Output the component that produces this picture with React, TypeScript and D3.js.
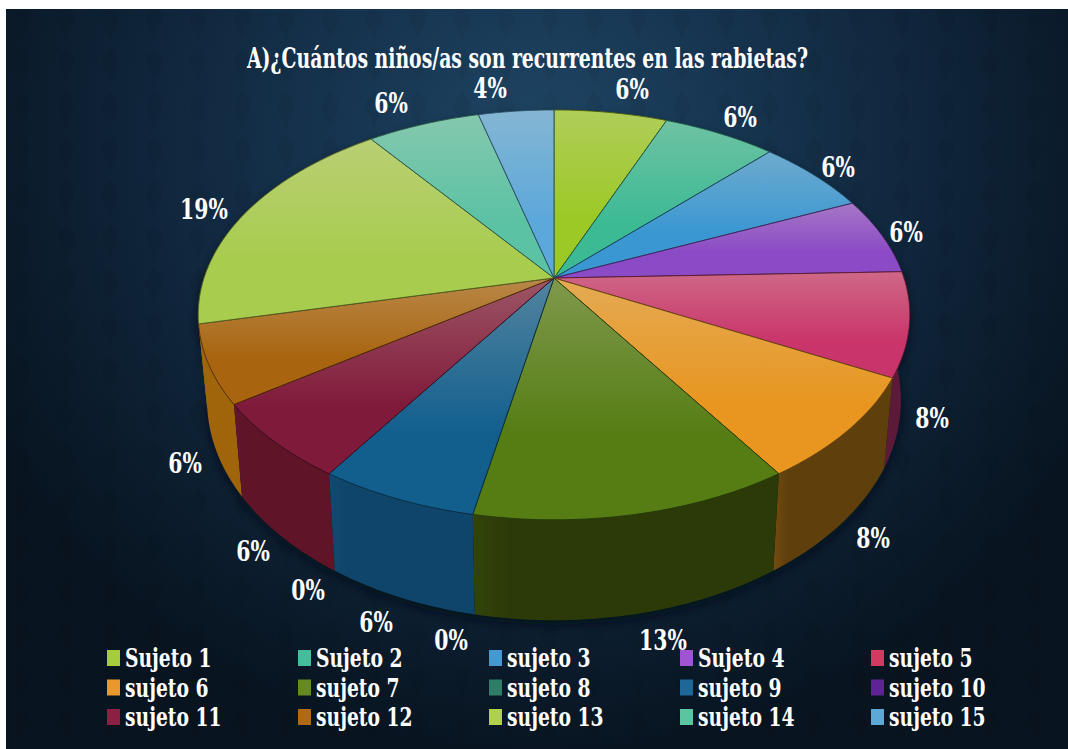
import React from 'react';
import * as d3 from 'd3';

const title = 'A)¿Cuántos niños/as son recurrentes en las rabietas?';

const subjects = [
  'Sujeto 1', 'Sujeto 2', 'sujeto 3', 'Sujeto 4', 'sujeto 5',
  'sujeto 6', 'sujeto 7', 'sujeto 8', 'sujeto 9', 'sujeto 10',
  'sujeto 11', 'sujeto 12', 'sujeto 13', 'sujeto 14', 'sujeto 15',
];
const counts = [3, 3, 3, 3, 4, 4, 6, 0, 3, 0, 3, 3, 9, 3, 2];
const percentLabels = ['6%', '6%', '6%', '6%', '8%', '8%', '13%', '0%', '6%', '0%', '6%', '6%', '19%', '6%', '4%'];
const sliceColors = [
  '#9cc926', '#3cba94', '#3a97d2', '#8c4bc6', '#c9356a',
  '#e8961f', '#557d14', '#1f7a5f', '#125f8e', '#5a1f96',
  '#801a3a', '#a8640e', '#a8cc4e', '#5cc2a4', '#5ca8da',
];
const wallColors = [
  '#5c7a18', '#24705a', '#235b80', '#552d78', '#5c1a38',
  '#5f3f0c', '#2c3a08', '#134a3a', '#10456b', '#36125a',
  '#5f1428', '#a0640a', '#667c30', '#387664', '#386684',
];
const legendSwatchColors = [
  '#a4cc3c', '#45bd9c', '#4499d2', '#a055d0', '#d23a62',
  '#e8982c', '#668a22', '#2f7d68', '#1f6797', '#5f2398',
  '#8c2044', '#b06a14', '#aed04e', '#5cc4a0', '#5ca9d8',
];

// hand placed in the original, so these are layout and not data
const labelAnchors = [
  [632, 99], [740, 127], [838, 177], [906, 242], [932, 428],
  [873, 548], [663, 650], [451, 650], [376, 632], [308, 600],
  [253, 561], [185, 473], [204, 219], [391, 113], [490, 98],
];

const W = 1068;
const H = 749;
const hub = { x: 554, y: 278 };
const radiusX = 350;
const radiusY = 198.3;
const tilt = 0.18; // perspective of the disc
const slabFont = "'DejaVu Serif Condensed', 'DejaVu Serif'";

const project = (theta: number) => {
  const px = Math.sin(theta);
  const py = -Math.cos(theta);
  const d = 1 - tilt * py;
  return [hub.x + (radiusX * px) / d, hub.y + (radiusY * py) / d];
};
const dropPoint = ([x, y]: number[]) => [hub.x + 0.975 * (x - hub.x), 1.0725 * y + 62.7];

const pie = d3.pie<number>().sort(null).value((d) => d);
const arcs = pie(counts);

const arcPoints = (a0: number, a1: number) =>
  d3.range(0, 41).map((i) => project(a0 + ((a1 - a0) * i) / 40));

const lineGen = d3.line();
const wedgePath = (a0: number, a1: number) =>
  lineGen([[hub.x, hub.y], ...arcPoints(a0, a1)] as [number, number][]) + 'Z';
const wallPath = (a0: number, a1: number) => {
  const top = arcPoints(a0, a1);
  return lineGen([...top, ...top.map(dropPoint).reverse()] as [number, number][]) + 'Z';
};

const col = d3.scalePoint<number>().domain([0, 1, 2, 3, 4]).range([107, 871]);
const row = d3.scalePoint<number>().domain([0, 1, 2]).range([650, 709]);

const mix = (c: string, other: string, t: number) => d3.interpolateRgb(c, other)(t);

// back of the pie first, so the walls nearest to the viewer end up on top
const wallOrder = arcs
  .map((a, i) => ({ a, i }))
  .filter((d) => d.a.value > 0)
  .sort(
    (p, q) =>
      -Math.cos((p.a.startAngle + p.a.endAngle) / 2) + Math.cos((q.a.startAngle + q.a.endAngle) / 2)
  );

export default function App() {
  return (
    <svg
      width={W}
      height={H}
      viewBox={`0 0 ${W} ${H}`}
      style={{ position: 'absolute', left: 0, top: 0, background: '#fff' }}
    >
      <defs>
        <radialGradient id="bg" gradientUnits="userSpaceOnUse" cx={540} cy={140} r={620}>
          <stop offset="0" stopColor="#1e4564" />
          <stop offset="0.35" stopColor="#16334e" />
          <stop offset="0.7" stopColor="#0e2236" />
          <stop offset="1" stopColor="#081420" />
        </radialGradient>
        <pattern id="damask" width={44} height={44} patternUnits="userSpaceOnUse">
          <path
            d="M22 3 C28 11 33 15 29 24 C26 30 24 31 22 41 C20 31 18 30 15 24 C11 15 16 11 22 3Z"
            fill="#000"
            opacity={0.05}
          />
        </pattern>
        <filter id="soft" x="-10%" y="-10%" width="120%" height="120%">
          <feGaussianBlur stdDeviation="5" />
        </filter>
        {arcs.map((_, i) => (
          <linearGradient key={i} id={`top${i}`} x1="0" y1="0" x2="0" y2="1">
            <stop offset="0" stopColor={mix(sliceColors[i], '#dcd4c4', 0.32)} />
            <stop offset="0.65" stopColor={sliceColors[i]} />
            <stop offset="1" stopColor={sliceColors[i]} />
          </linearGradient>
        ))}
        {arcs.map((_, i) => (
          <linearGradient key={i} id={`wall${i}`} x1="0" y1="0" x2="1" y2="0">
            <stop offset="0" stopColor={mix(wallColors[i], sliceColors[i], 0.15)} />
            <stop offset="0.12" stopColor={wallColors[i]} />
            <stop offset="1" stopColor={wallColors[i]} />
          </linearGradient>
        ))}
      </defs>

      <rect x={6} y={9} width={W - 6} height={H - 9} fill="url(#bg)" />
      <rect x={6} y={9} width={W - 6} height={H - 9} fill="url(#damask)" />

      <path
        d={wallPath(0, Math.PI * 2)}
        transform="translate(0,5)"
        fill="#030a12"
        opacity={0.75}
        filter="url(#soft)"
      />

      {wallOrder.map(({ a, i }) => (
        <path key={i} d={wallPath(a.startAngle, a.endAngle)} fill={`url(#wall${i})`} />
      ))}

      {arcs.map((a, i) =>
        a.value > 0 ? (
          <path
            key={i}
            d={wedgePath(a.startAngle, a.endAngle)}
            fill={`url(#top${i})`}
            stroke={mix(sliceColors[i], '#000', 0.55)}
            strokeWidth={0.9}
            strokeLinejoin="round"
          />
        ) : null
      )}

      <text
        x={527.5}
        y={68}
        textAnchor="middle"
        textLength={561}
        lengthAdjust="spacingAndGlyphs"
        fontFamily={slabFont}
        fontWeight={700}
        fontSize={27}
        fill="#fff"
      >
        {title}
      </text>

      {percentLabels.map((t, i) => (
        <text
          key={i}
          transform={`translate(${labelAnchors[i][0]},${labelAnchors[i][1]}) scale(0.84,1)`}
          textAnchor="middle"
          fontFamily={slabFont}
          fontWeight={700}
          fontSize={27}
          fill="#fff"
        >
          {t}
        </text>
      ))}

      {subjects.map((s, i) => {
        const c = i % 5;
        const r = Math.floor(i / 5);
        return (
          <g key={s} transform={`translate(${col(c)},${row(r)})`}>
            <rect width={13} height={16} fill={legendSwatchColors[i]} />
            <text
              transform="translate(18,17) scale(0.8,1)"
              fontFamily={slabFont}
              fontWeight={700}
              fontSize={26}
              fill="#fff"
            >
              {s}
            </text>
          </g>
        );
      })}
    </svg>
  );
}
